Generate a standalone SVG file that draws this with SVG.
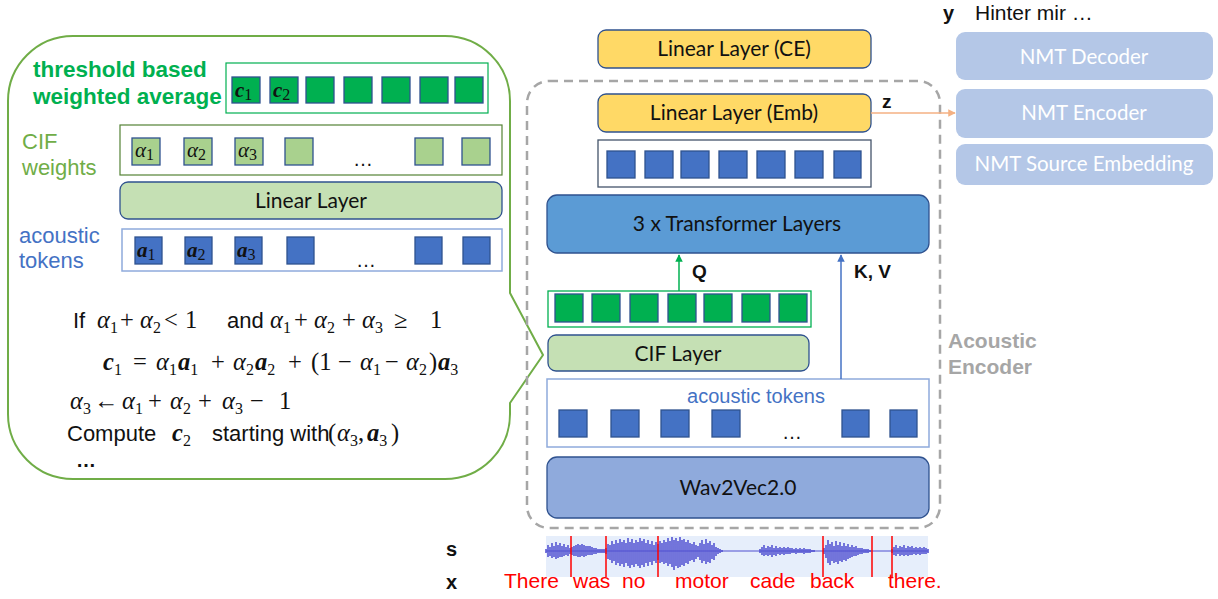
<svg xmlns="http://www.w3.org/2000/svg" width="1218" height="599" viewBox="0 0 1218 599">
<defs>
<style>
.ar{font-family:"Liberation Sans",Arial,sans-serif}
.cal{font-family:Lato,"Open Sans",sans-serif;font-size:21px;fill:#111;text-anchor:middle}
.mt{font-family:"Liberation Serif","DejaVu Serif",serif;fill:#111}
.i{font-style:italic}
.b{font-style:italic;font-weight:bold}
.s{font-size:16px;font-style:normal;font-weight:normal}
.sq{stroke:#2F528F;stroke-width:1.3}
.gsq{fill:#00B050}
.lsq{fill:#A9D18E}
.bsq{fill:#4472C4}
.box{stroke:#2F528F;stroke-width:1.3}
.nmt{fill:#B4C7E7}
.nmtt{font-family:Lato,"Open Sans",sans-serif;font-size:20.5px;fill:#fff;text-anchor:middle}
</style>
<marker id="ag" viewBox="0 0 10 10" refX="9" refY="5" markerWidth="5" markerHeight="5" orient="auto"><path d="M0,0 L10,5 L0,10 z" fill="#00B050"/></marker>
<marker id="ab" viewBox="0 0 10 10" refX="9" refY="5" markerWidth="5" markerHeight="5" orient="auto"><path d="M0,0 L10,5 L0,10 z" fill="#4472C4"/></marker>
<marker id="ao" viewBox="0 0 10 10" refX="9" refY="5" markerWidth="5" markerHeight="5" orient="auto"><path d="M0,0 L10,5 L0,10 z" fill="#F4B183"/></marker>
</defs>
<rect width="1218" height="599" fill="#fff"/>

<!-- callout bubble -->
<g id="callout">
<path d="M73,36 H445 A65,65 0 0 1 510,101 V293 L543,355 L510,403 V414 A65,65 0 0 1 445,479 H73 A65,65 0 0 1 8,414 V101 A65,65 0 0 1 73,36 Z" fill="#fff" stroke="#70AD47" stroke-width="2"/>
<text class="ar" x="33" y="77" font-size="22.5" font-weight="bold" fill="#00B050">threshold based</text>
<text class="ar" x="33" y="104" font-size="22.5" font-weight="bold" fill="#00B050">weighted average</text>
<rect x="226" y="63" width="262" height="50" fill="#fff" stroke="#00B050" stroke-width="1.2"/>
<g class="sq gsq">
<rect x="232" y="77" width="28" height="26"/><rect x="270" y="77" width="28" height="26"/><rect x="306" y="77" width="28" height="26"/><rect x="344" y="77" width="28" height="26"/><rect x="382" y="77" width="28" height="26"/><rect x="420" y="77" width="28" height="26"/><rect x="455" y="77" width="28" height="26"/>
</g>
<text class="mt" y="97" font-size="21"><tspan x="235" class="b">c</tspan><tspan class="s" font-size="14" dy="3">1</tspan><tspan x="273" dy="-3" class="b">c</tspan><tspan class="s" font-size="14" dy="3">2</tspan></text>

<text class="ar" x="22" y="149" font-size="22" fill="#70AD47">CIF</text>
<text class="ar" x="22" y="175" font-size="22" fill="#70AD47">weights</text>
<rect x="120" y="125" width="382" height="50" fill="#fff" stroke="#548235" stroke-width="1.2"/>
<g class="sq lsq">
<rect x="132" y="138" width="28" height="27"/><rect x="184" y="138" width="28" height="27"/><rect x="235" y="138" width="28" height="27"/><rect x="285" y="138" width="28" height="27"/><rect x="415" y="138" width="28" height="27"/><rect x="462" y="138" width="28" height="27"/>
</g>
<text class="mt" y="157" font-size="21"><tspan x="135" class="i">α</tspan><tspan class="s" font-size="14" dy="3">1</tspan><tspan x="187" dy="-3" class="i">α</tspan><tspan class="s" font-size="14" dy="3">2</tspan><tspan x="238" dy="-3" class="i">α</tspan><tspan class="s" font-size="14" dy="3">3</tspan></text>
<text class="ar" x="353" y="166" font-size="20" fill="#111">…</text>

<rect x="120" y="182" width="382" height="37" rx="8" fill="#C5E0B4" class="box"/>
<text class="cal" x="311" y="208">Linear Layer</text>

<text class="ar" x="19" y="243" font-size="22" fill="#4472C4">acoustic</text>
<text class="ar" x="19" y="268" font-size="22" fill="#4472C4">tokens</text>
<rect x="122" y="229" width="380" height="42" fill="#fff" stroke="#8FAADC" stroke-width="1.5"/>
<g class="sq bsq">
<rect x="135" y="237" width="27" height="27"/><rect x="185" y="237" width="27" height="27"/><rect x="235" y="237" width="27" height="27"/><rect x="287" y="237" width="27" height="27"/><rect x="415" y="237" width="27" height="27"/><rect x="463" y="237" width="27" height="27"/>
</g>
<text class="mt" y="257" font-size="21"><tspan x="137" class="b">a</tspan><tspan class="s" font-size="14" dy="3">1</tspan><tspan x="187" dy="-3" class="b">a</tspan><tspan class="s" font-size="14" dy="3">2</tspan><tspan x="237" dy="-3" class="b">a</tspan><tspan class="s" font-size="14" dy="3">3</tspan></text>
<text class="ar" x="356" y="267" font-size="20" fill="#111">…</text>

<text class="mt" y="328" font-size="24.5"><tspan x="73" class="ar" font-size="22">If</tspan><tspan x="97" class="i">α</tspan><tspan class="s" dy="5">1</tspan><tspan x="120" dy="-5">+</tspan><tspan x="140" class="i">α</tspan><tspan class="s" dy="5">2</tspan><tspan x="164" dy="-5">&lt;</tspan><tspan x="185">1</tspan><tspan x="227" class="ar" font-size="22">and</tspan><tspan x="270" class="i">α</tspan><tspan class="s" dy="5">1</tspan><tspan x="294" dy="-5">+</tspan><tspan x="314" class="i">α</tspan><tspan class="s" dy="5">2</tspan><tspan x="342" dy="-5">+</tspan><tspan x="362" class="i">α</tspan><tspan class="s" dy="5">3</tspan><tspan x="394" dy="-5">≥</tspan><tspan x="430">1</tspan></text>
<text class="mt" y="370" font-size="24.5"><tspan x="103" class="b">c</tspan><tspan class="s" dy="5">1</tspan><tspan x="133" dy="-5">=</tspan><tspan x="156" class="i">α</tspan><tspan class="s" dy="5">1</tspan><tspan x="178" dy="-5" class="b">a</tspan><tspan class="s" dy="5">1</tspan><tspan x="211" dy="-5">+</tspan><tspan x="233" class="i">α</tspan><tspan class="s" dy="5">2</tspan><tspan x="255" dy="-5" class="b">a</tspan><tspan class="s" dy="5">2</tspan><tspan x="288" dy="-5">+</tspan><tspan x="311">(1</tspan><tspan x="338">−</tspan><tspan x="360" class="i">α</tspan><tspan class="s" dy="5">1</tspan><tspan x="385" dy="-5">−</tspan><tspan x="406" class="i">α</tspan><tspan class="s" dy="5">2</tspan><tspan x="429" dy="-5">)</tspan><tspan x="438" class="b">a</tspan><tspan class="s" dy="5">3</tspan></text>
<text class="mt" y="409" font-size="24.5"><tspan x="70" class="i">α</tspan><tspan class="s" dy="5">3</tspan><tspan x="94" dy="-5">←</tspan><tspan x="122" class="i">α</tspan><tspan class="s" dy="5">1</tspan><tspan x="148" dy="-5">+</tspan><tspan x="170" class="i">α</tspan><tspan class="s" dy="5">2</tspan><tspan x="198" dy="-5">+</tspan><tspan x="222" class="i">α</tspan><tspan class="s" dy="5">3</tspan><tspan x="250" dy="-5">−</tspan><tspan x="279">1</tspan></text>
<text class="mt" y="441" font-size="24.5"><tspan x="67" class="ar" font-size="22">Compute</tspan><tspan x="172" class="b">c</tspan><tspan class="s" dy="5">2</tspan><tspan x="212" dy="-5" class="ar" font-size="22">starting with</tspan><tspan x="328">(</tspan><tspan x="337" class="i">α</tspan><tspan class="s" dy="5">3</tspan><tspan x="358" dy="-5">,</tspan><tspan x="367" class="b">a</tspan><tspan class="s" dy="5">3</tspan><tspan x="391" dy="-5">)</tspan></text>
<text class="ar" x="76" y="467" font-size="20" font-weight="bold" fill="#111">…</text>
</g>

<!-- acoustic encoder frame -->
<g id="encoder-frame">
<rect x="527" y="81" width="413" height="447" rx="22" fill="none" stroke="#A6A6A6" stroke-width="2.5" stroke-dasharray="9 6"/>
<text class="ar" x="948" y="348" font-size="21" font-weight="bold" fill="#A6A6A6">Acoustic</text>
<text class="ar" x="948" y="374" font-size="21" font-weight="bold" fill="#A6A6A6">Encoder</text>
</g>

<g id="linear-ce">
<rect x="598" y="30" width="273" height="38" rx="8" fill="#FFD966" class="box"/>
<text class="cal" x="734" y="56">Linear Layer (CE)</text>
</g>
<g id="linear-emb">
<rect x="598" y="94" width="273" height="38" rx="8" fill="#FFD966" class="box"/>
<text class="cal" x="734" y="120">Linear Layer (Emb)</text>
</g>
<g id="transformer-out">
<rect x="598" y="140" width="273" height="47" fill="#fff" stroke="#44546A" stroke-width="1.3"/>
<g class="sq bsq">
<rect x="607" y="151" width="28" height="27"/><rect x="645" y="151" width="28" height="27"/><rect x="681" y="151" width="28" height="27"/><rect x="719" y="151" width="28" height="27"/><rect x="757" y="151" width="28" height="27"/><rect x="795" y="151" width="28" height="27"/><rect x="834" y="151" width="27" height="27"/>
</g>
</g>
<g id="transformer">
<rect x="547" y="195" width="382" height="58" rx="10" fill="#5B9BD5" class="box"/>
<text class="cal" x="737" y="231">3 x Transformer  Layers</text>
</g>
<g id="cif-out">
<rect x="548" y="291" width="263" height="36" fill="#fff" stroke="#00B050" stroke-width="1.3"/>
<g class="sq gsq">
<rect x="555" y="294" width="28" height="28"/><rect x="592" y="294" width="28" height="28"/><rect x="630" y="294" width="28" height="28"/><rect x="668" y="294" width="28" height="28"/><rect x="704" y="294" width="28" height="28"/><rect x="742" y="294" width="28" height="28"/><rect x="779" y="294" width="28" height="28"/>
</g>
</g>
<g id="cif-layer">
<rect x="548" y="335" width="261" height="36" rx="8" fill="#C5E0B4" class="box"/>
<text class="cal" x="678" y="361">CIF Layer</text>
</g>
<g id="acoustic-tokens">
<rect x="547" y="379" width="382" height="68" fill="#fff" stroke="#8FAADC" stroke-width="1.5"/>
<text class="ar" x="756" y="403" font-size="20" fill="#4472C4" text-anchor="middle">acoustic tokens</text>
<g class="sq bsq">
<rect x="559" y="410" width="28" height="27"/><rect x="611" y="410" width="28" height="27"/><rect x="661" y="410" width="28" height="27"/><rect x="712" y="410" width="28" height="27"/><rect x="842" y="410" width="27" height="27"/><rect x="890" y="410" width="27" height="27"/>
</g>
<text class="ar" x="782" y="439" font-size="20" fill="#111">…</text>
</g>
<g id="wav2vec">
<rect x="547" y="457" width="382" height="61" rx="10" fill="#8FAADC" class="box"/>
<text class="cal" x="738" y="495">Wav2Vec2.0</text>
</g>

<!-- NMT -->
<g id="nmt-decoder">
<rect x="956" y="32" width="257" height="48" rx="9" class="nmt"/>
<text class="nmtt" x="1084" y="64">NMT Decoder</text>
</g>
<g id="nmt-encoder">
<rect x="956" y="89" width="257" height="49" rx="9" class="nmt"/>
<text class="nmtt" x="1084" y="120">NMT Encoder</text>
</g>
<g id="nmt-embedding">
<rect x="956" y="144" width="257" height="41" rx="9" class="nmt"/>
<text class="nmtt" x="1084" y="171">NMT Source Embedding</text>
</g>
<g id="target">
<text class="ar" x="943" y="20" font-size="20" font-weight="bold" fill="#111">y</text>
<text class="ar" x="975" y="20" font-size="21" fill="#111">Hinter mir …</text>
</g>

<!-- connectors -->
<g id="connectors" fill="none">
<line x1="679" y1="291" x2="679" y2="255" stroke="#00B050" stroke-width="1.5" marker-end="url(#ag)"/>
<line x1="841" y1="379" x2="841" y2="255" stroke="#4472C4" stroke-width="1.5" marker-end="url(#ab)"/>
<line x1="871" y1="113" x2="955" y2="113" stroke="#F4B183" stroke-width="1.5" marker-end="url(#ao)"/>
</g>
<text class="ar" x="692" y="278" font-size="19" font-weight="bold" fill="#111">Q</text>
<text class="ar" x="854" y="278" font-size="19" font-weight="bold" fill="#111">K, V</text>
<text class="ar" x="882" y="108" font-size="19" font-weight="bold" fill="#111">z</text>

<!-- speech -->
<g id="speech">
<text class="ar" x="446" y="556" font-size="20" font-weight="bold" fill="#111">s</text>
<text class="ar" x="446" y="589" font-size="20" font-weight="bold" fill="#111">x</text>
<rect x="546" y="536" width="382" height="41" fill="#E6EEFB"/>
<g transform="translate(0,551)" stroke="#4F4FD0" fill="none">
<line x1="546" y1="0" x2="928" y2="0" stroke-width="1"/>
<path stroke-width="1.8" stroke-opacity="0.85" d="M546-2V2M548-6V6M550-4V5M552-8V7M554-5V6M556-9V8M558-6V7M560-8V6M562-5V6M564-7V5M566-4V4M568-6V5M570-3V3M572-4V4M574-5V5M576-6V5M578-7V6M580-6V6M582-7V5M584-6V6M586-5V5M588-5V4M590-5V4M592-4V4M594-3V3M596-3V3M598-2V2M600-2V2M602-2V2M604-2V2M606-3V3M608-7V8M610-6V9M612-10V12M614-7V10M616-11V14M618-8V12M620-12V15M622-9V13M624-11V16M626-8V12M628-13V15M630-9V17M632-12V14M634-8V16M636-11V13M638-9V15M640-13V17M642-10V14M644-12V16M646-8V12M648-11V15M650-7V11M652-10V14M654-6V10M656-9V12M658-7V9M660-10V12M662-8V11M664-11V13M666-9V12M668-13V15M670-10V13M672-14V16M674-11V19M676-13V15M678-10V17M680-14V16M682-11V14M684-12V15M686-9V12M688-11V13M690-8V10M692-7V9M694-9V11M696-6V8M698-5V6M700-8V9M702-11V12M704-7V10M706-12V13M708-8V11M710-10V12M712-6V8M714-8V9M716-4V5M718-3V3M720-2V2M722-1V1M760-2V2M762-4V4M764-6V5M766-3V4M768-5V5M770-4V4M772-6V6M774-3V4M776-5V5M778-3V3M780-4V4M782-3V3M784-4V4M786-3V3M788-4V3M790-3V3M792-3V2M794-2V2M796-3V3M798-2V2M800-3V2M802-2V2M804-3V3M806-2V2M808-2V2M810-2V2M812-1V1M814-1V1M824-3V3M826-6V7M828-11V12M830-7V14M832-9V10M834-5V12M836-10V11M838-6V13M840-9V10M842-5V11M844-8V9M846-5V10M848-7V8M850-4V7M852-6V6M854-4V5M856-5V5M858-3V4M860-3V3M862-3V3M864-2V2M866-2V2M868-2V2M870-1V1M892-2V2M894-4V4M896-6V5M898-3V3M900-5V5M902-4V4M904-6V5M906-3V4M908-5V5M910-4V4M912-5V4M914-3V3M916-4V4M918-3V3M920-4V4M922-3V3M924-4V3M926-3V3M928-2V2"/>
</g>
<g stroke="#FF0000" stroke-width="1.5">
<line x1="571" y1="536" x2="571" y2="577"/><line x1="606" y1="536" x2="606" y2="577"/><line x1="658" y1="536" x2="658" y2="577"/><line x1="823" y1="536" x2="823" y2="577"/><line x1="872" y1="536" x2="872" y2="577"/><line x1="892" y1="536" x2="892" y2="577"/>
</g>
<text class="ar" y="588" font-size="21" fill="#FF0000"><tspan x="504">There</tspan><tspan x="573">was</tspan><tspan x="622">no</tspan><tspan x="675">motor</tspan><tspan x="750">cade</tspan><tspan x="810">back</tspan><tspan x="888">there.</tspan></text>
</g>
</svg>
